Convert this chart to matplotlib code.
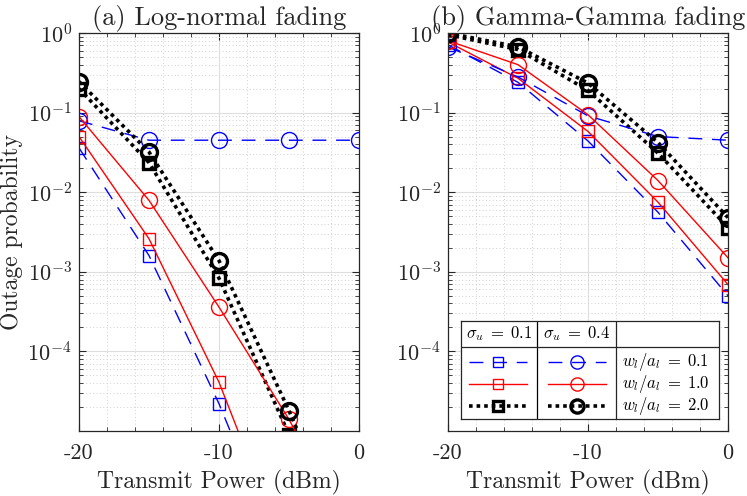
import matplotlib
matplotlib.use("Agg")
import matplotlib.pyplot as plt
import numpy as np
from matplotlib.ticker import MultipleLocator, LogLocator, NullFormatter

plt.rcParams['font.family'] = 'serif'
plt.rcParams['font.serif'] = ['cmr10']
plt.rcParams['mathtext.fontset'] = 'cm'
plt.rcParams['axes.unicode_minus'] = False
plt.rcParams['axes.formatter.use_mathtext'] = True

# transmit power (dBm)
power = [-20, -15, -10, -5, 0]
xtick_vals = [-20, -10, 0]
xtick_labels = ['-20', '-10', '0']

# (a) log-normal fading
ln_s01_w01 = [0.036, 0.0016, 2.2e-5, 1.6e-7, 1e-9]
ln_s01_w10 = [0.05, 0.0026, 4.1e-5, 2.3e-7, 1.6e-9]
ln_s01_w20 = [0.2, 0.0235, 8.3e-4, 9e-6, 6e-8]
ln_s04_w01 = [0.079, 0.045, 0.045, 0.045, 0.045]
ln_s04_w10 = [0.089, 0.0079, 3.6e-4, 1.4e-5, 3e-7]
ln_s04_w20 = [0.245, 0.032, 1.38e-3, 1.8e-5, 1.6e-7]

# (b) gamma-gamma fading
gg_s01_w01 = [0.71, 0.24, 0.044, 0.0056, 5e-4]
gg_s01_w10 = [0.77, 0.27, 0.058, 0.0075, 6.9e-4]
gg_s01_w20 = [0.95, 0.62, 0.19, 0.031, 0.0036]
gg_s04_w01 = [0.67, 0.28, 0.091, 0.05, 0.045]
gg_s04_w10 = [0.8, 0.4, 0.094, 0.014, 0.0015]
gg_s04_w20 = [1.0, 0.67, 0.235, 0.042, 0.0048]

titles = ['(a) Log-normal fading', '(b) Gamma-Gamma fading']
sigma_labels = [r'$\sigma_u\;=\;0.1$', r'$\sigma_u\;=\;0.4$']
ratio_labels = [r'$w_l/a_l\;=\;0.1$', r'$w_l/a_l\;=\;1.0$', r'$w_l/a_l\;=\;2.0$']

styles = [
    dict(color='b', ls=(0, (10, 7)), lw=1.0, mew=1.0),
    dict(color='r', ls='-', lw=1.0, mew=1.0),
    dict(color='k', ls=(0, (1, 1.1)), lw=2.6, mew=2.4),
]
sq_size = 9
ci_size = 11.5
txt = '#262626'

fig = plt.figure(figsize=(7.47, 4.96), dpi=100)
W, H = 747, 496


def px_axes(x0, y0, x1, y1):
    return fig.add_axes([x0 / W, (H - y1) / H, (x1 - x0) / W, (y1 - y0) / H])


ax1 = px_axes(79, 33, 359, 431)
ax2 = px_axes(448, 33, 728, 431)

data = [
    ([ln_s01_w01, ln_s01_w10, ln_s01_w20], [ln_s04_w01, ln_s04_w10, ln_s04_w20]),
    ([gg_s01_w01, gg_s01_w10, gg_s01_w20], [gg_s04_w01, gg_s04_w10, gg_s04_w20]),
]

for ax, title, (sq_series, ci_series) in zip([ax1, ax2], titles, data):
    for st, ys in zip(styles, sq_series):
        ax.plot(power, ys, ls=st['ls'], lw=st['lw'], color=st['color'],
                marker='s', ms=sq_size, mfc='none', mec=st['color'], mew=st['mew'])
    for st, ys in zip(styles, ci_series):
        ax.plot(power, ys, ls=st['ls'], lw=st['lw'], color=st['color'],
                marker='o', ms=ci_size, mfc='none', mec=st['color'], mew=st['mew'])
    ax.set_yscale('log')
    ax.set_xlim(-20, 0)
    ax.set_ylim(1e-5, 1)
    ax.set_xticks(xtick_vals)
    ax.set_xticklabels(xtick_labels)
    ax.xaxis.set_minor_locator(MultipleLocator(2))
    ax.yaxis.set_minor_locator(LogLocator(base=10, subs=np.arange(2, 10), numticks=20))
    ax.yaxis.set_minor_formatter(NullFormatter())
    ax.set_yticks([1e-4, 1e-3, 1e-2, 1e-1, 1])
    ax.grid(True, which='major', color='#dedede', lw=0.8, ls='-')
    ax.grid(True, which='minor', color='#d0d0d0', lw=0.7, ls=(0, (1, 2.5)))
    ax.set_axisbelow(True)
    ax.tick_params(which='both', direction='in', top=True, right=True,
                   colors=txt, labelcolor=txt)
    ax.tick_params(which='major', length=5, labelsize=16)
    ax.tick_params(which='minor', length=3)
    ax.tick_params(axis='x', which='major', pad=9)
    ax.tick_params(axis='y', which='major', pad=5)
    for sp in ax.spines.values():
        sp.set_color(txt)
        sp.set_linewidth(0.9)
    ax.set_title(title, fontsize=19, pad=6, color=txt)
    ax.set_xlabel('Transmit Power (dBm)', fontsize=17, color=txt, labelpad=5)

ax1.set_ylabel('Outage probability', fontsize=17, color=txt, labelpad=3)

# table-style legend in panel (b)
lg = px_axes(461, 321, 719, 419)
lg.set_xlim(461, 719)
lg.set_ylim(419, 321)
lg.set_xticks([])
lg.set_yticks([])
lg.set_facecolor('white')
for sp in lg.spines.values():
    sp.set_color(txt)
    sp.set_linewidth(0.9)
lg.plot([537, 537], [321, 419], color='k', lw=0.9)
lg.plot([616, 616], [321, 419], color=txt, lw=0.9)
lg.plot([461, 719], [347, 347], color=txt, lw=0.9)
lg.text(499, 334, sigma_labels[0], ha='center', va='center', fontsize=12)
lg.text(577, 334, sigma_labels[1], ha='center', va='center', fontsize=12)
row_y = [362, 384, 406]
for st, yy, lab in zip(styles, row_y, ratio_labels):
    lg.plot([469, 527], [yy, yy], ls=st['ls'], lw=st['lw'], color=st['color'])
    lg.plot([498], [yy], marker='s', ms=7.5, mfc='none', mec=st['color'], mew=st['mew'])
    lg.plot([548, 606], [yy, yy], ls=st['ls'], lw=st['lw'], color=st['color'])
    lg.plot([577], [yy], marker='o', ms=9.5, mfc='none', mec=st['color'], mew=st['mew'])
    lg.text(622, yy, lab, ha='left', va='center', fontsize=12)

fig.savefig('out.png', dpi=100)
